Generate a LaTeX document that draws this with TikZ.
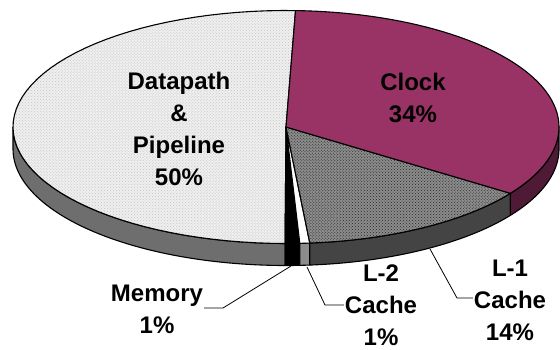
\documentclass[tikz,border=0pt]{standalone}
\usepackage{fontspec}
\setmainfont{Liberation Sans}
\usetikzlibrary{patterns}
\definecolor{dpTop}{HTML}{EFEFEF}
\definecolor{dpDot}{HTML}{C4C4C4}
\definecolor{dpSide}{HTML}{6E6E6E}
\definecolor{clkTop}{HTML}{993366}
\definecolor{clkSide}{HTML}{4F1A35}
\definecolor{lonTop}{HTML}{8C8C8C}
\definecolor{lonDot}{HTML}{262626}
\definecolor{lonSide}{HTML}{444444}
\definecolor{ltwSide}{HTML}{8C8C8C}
% pie geometry: centre, semi-axes, thickness
\def\cx{286}
\def\cy{127}
\def\ra{273}
\def\rb{116.5}
\def\dd{22}
% wedge of the top face between two parametric angles
\newcommand\topslice[3]{%
  \filldraw[#3] (O) -- plot[domain=#1:#2,samples=60]
    ({\cx+\ra*cos(\x)},{\cy-\rb*sin(\x)}) -- cycle;}
% visible rim band between two parametric angles
\newcommand\sideslice[3]{%
  \filldraw[#3] plot[domain=#1:#2,samples=60]
    ({\cx+\ra*cos(\x)},{\cy-\rb*sin(\x)})
    -- plot[domain=#2:#1,samples=60]
    ({\cx+\ra*cos(\x)},{\cy+\dd-\rb*sin(\x)}) -- cycle;}
\begin{document}
\begin{tikzpicture}[x=1bp,y=-1bp,
  edge/.style={draw=black,line width=1.1bp,line join=round},
  lbl/.style={font=\fontsize{24bp}{32bp}\selectfont\bfseries,align=center,inner sep=1bp},
  leader/.style={draw=black,line width=0.8bp}]
\useasboundingbox[fill=white] (0,0) rectangle (560,349);
\coordinate (O) at (\cx,\cy);
% rim
\sideslice{180}{269.8}{edge,fill=dpSide}
\sideslice{269.8}{272.9}{edge,fill=black}
\sideslice{272.9}{275}{edge,fill=ltwSide}
\sideslice{275}{325.3}{edge,fill=lonSide}
\sideslice{325.3}{360}{edge,fill=clkSide}
% top face
\topslice{88}{269.8}{edge,preaction={fill=dpTop},pattern=crosshatch dots,pattern color=dpDot}
\topslice{269.8}{272.9}{edge,fill=black}
\topslice{272.9}{275}{edge,fill=white}
\topslice{275}{325.3}{edge,preaction={fill=lonTop},pattern=crosshatch dots,pattern color=lonDot}
\topslice{-34.7}{88}{edge,fill=clkTop}
% labels
\node[lbl] (dp) at (179,129) {Datapath\\\&\\Pipeline\\50\%};
\node[lbl] (clk) at (413,98) {Clock\\34\%};
\node[lbl] (lone) at (510,300) {L-1\\Cache\\14\%};
\node[lbl] (ltwo) at (381,305) {L-2\\Cache\\1\%};
\node[lbl] (mem) at (157,309) {Memory\\1\%};
% leader lines
\coordinate (memA) at (291,266);
\coordinate (memB) at (223,308);
\coordinate (ltwA) at (307,267);
\coordinate (ltwB) at (325,305);
\coordinate (lonA) at (430,249);
\coordinate (lonB) at (457,298);
\draw[leader] (memA) -- (memB) -- (memB -| mem.east);
\draw[leader] (ltwA) -- (ltwB) -- (ltwB -| ltwo.west);
\draw[leader] (lonA) -- (lonB) -- (lonB -| lone.west);
\end{tikzpicture}
\end{document}
